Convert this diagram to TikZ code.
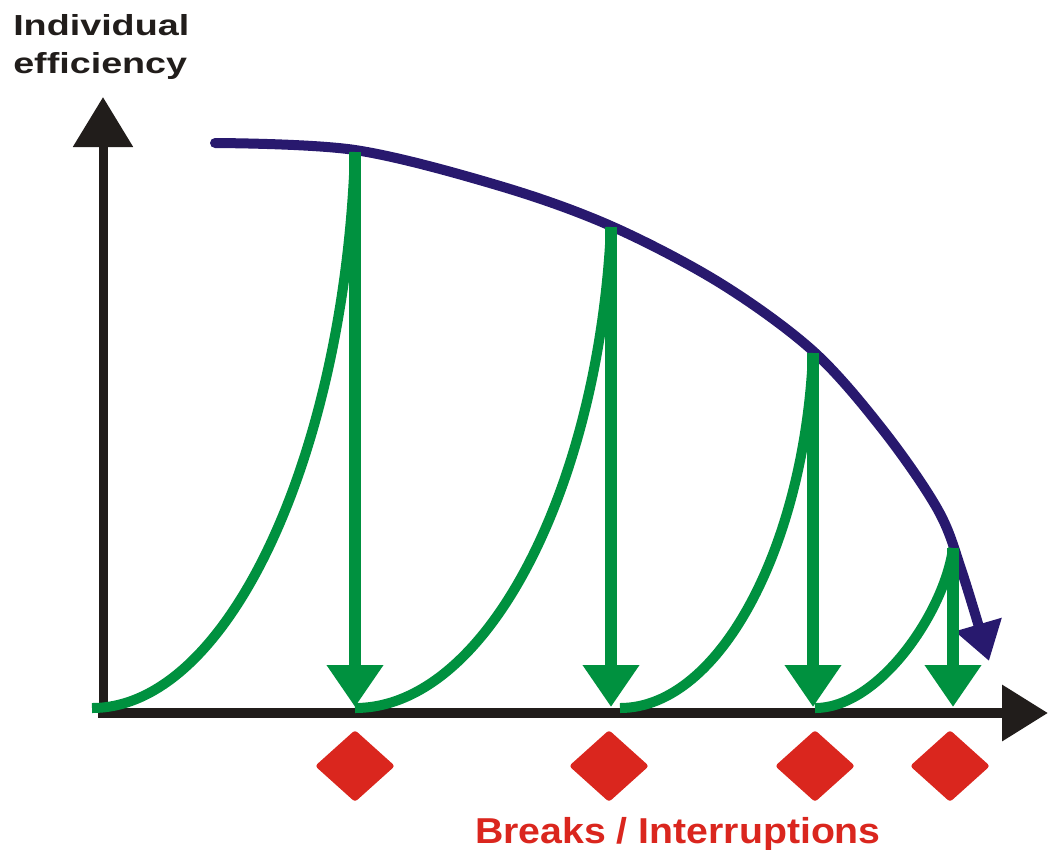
\documentclass[tikz,border=0pt]{standalone}
\usepackage{fontspec}
\setmainfont{Liberation Sans}
\usetikzlibrary{arrows.meta,shapes.geometric}
\definecolor{effgreen}{RGB}{0,145,63}
\definecolor{effblue}{RGB}{40,25,110}
\definecolor{breakred}{RGB}{218,38,30}
\definecolor{axisblack}{RGB}{33,29,27}
\begin{document}
\begin{tikzpicture}[x=1pt,y=-1pt,
  axisline/.style={draw=axisblack, line width=9pt},
  trendline/.style={draw=effblue, line width=10pt, line cap=round,
    -{Triangle[length=38pt,width=46pt]}},
  dropline/.style={draw=effgreen, line width=12pt,
    -{Triangle[length=42pt,width=54pt]}},
  riseline/.style={draw=effgreen, line width=10pt},
  brk/.style={diamond, fill=breakred, draw=none, minimum width=80pt,
    minimum height=72pt, inner sep=0pt, rounded corners=3pt},
  axislabel/.style={inner sep=0pt, anchor=base west,
    font=\bfseries\fontsize{29}{31}\selectfont, text=axisblack},
  breaklabel/.style={inner sep=0pt, anchor=base west,
    font=\bfseries\fontsize{36}{40}\selectfont, text=breakred}]
\useasboundingbox (0,0) rectangle (1048,849);

% coordinates
\coordinate (origin) at (103,718);
\coordinate (ytip) at (103,97);
\coordinate (xstart) at (98,713);
\coordinate (xtip) at (1048,713);
\coordinate (b0) at (92,708);
\coordinate (b1) at (355,707);
\coordinate (b2) at (611,707);
\coordinate (b3) at (813,707);
\coordinate (b4) at (953,707);
\coordinate (t1) at (355,152);
\coordinate (t2) at (611,227);
\coordinate (t3) at (813,353);
\coordinate (t4) at (953,548);
\coordinate (trendstart) at (215,143);
\coordinate (trendend) at (989,661);

% axes
\draw[axisline, -{Triangle[length=50pt,width=58pt]}] (origin) -- (ytip);
\draw[axisline, line width=10pt, -{Triangle[length=46pt,width=54pt]}] (xstart) -- (xtip);

% blue trend
\draw[trendline] plot[smooth, tension=0.55] coordinates {(trendstart) (355,150) (500,186) (611,226) (720,283) (813,351) (883,430) (938,510) (962,572) (trendend)};

% green rising curves
\draw[riseline] (b0) .. controls (230,708) and (345,450) .. (t1);
\draw[riseline] (355,708) .. controls (488,708) and (599,485) .. (t2);
\draw[riseline] (620,708) .. controls (721,708) and (805,543) .. (t3);
\draw[riseline] (815,708) .. controls (880,708) and (945,610) .. (t4);

% green drops
\draw[dropline] (t1) -- (b1);
\draw[dropline] (t2) -- (b2);
\draw[dropline] (t3) -- (b3);
\draw[dropline] (t4) -- (b4);

% break markers
\node[brk] (d1) at (355,766) {};
\node[brk] (d2) at (609,766) {};
\node[brk] (d3) at (815,766) {};
\node[brk] (d4) at (950,766) {};

% labels
\node[axislabel, xscale=1.3] (ylab1) at (13,35) {Individual};
\node[axislabel, xscale=1.3] (ylab2) at (13,73) {efficiency};
\node[breaklabel, xscale=1.09] (blab) at (475,843) {Breaks / Interruptions};
\end{tikzpicture}
\end{document}
